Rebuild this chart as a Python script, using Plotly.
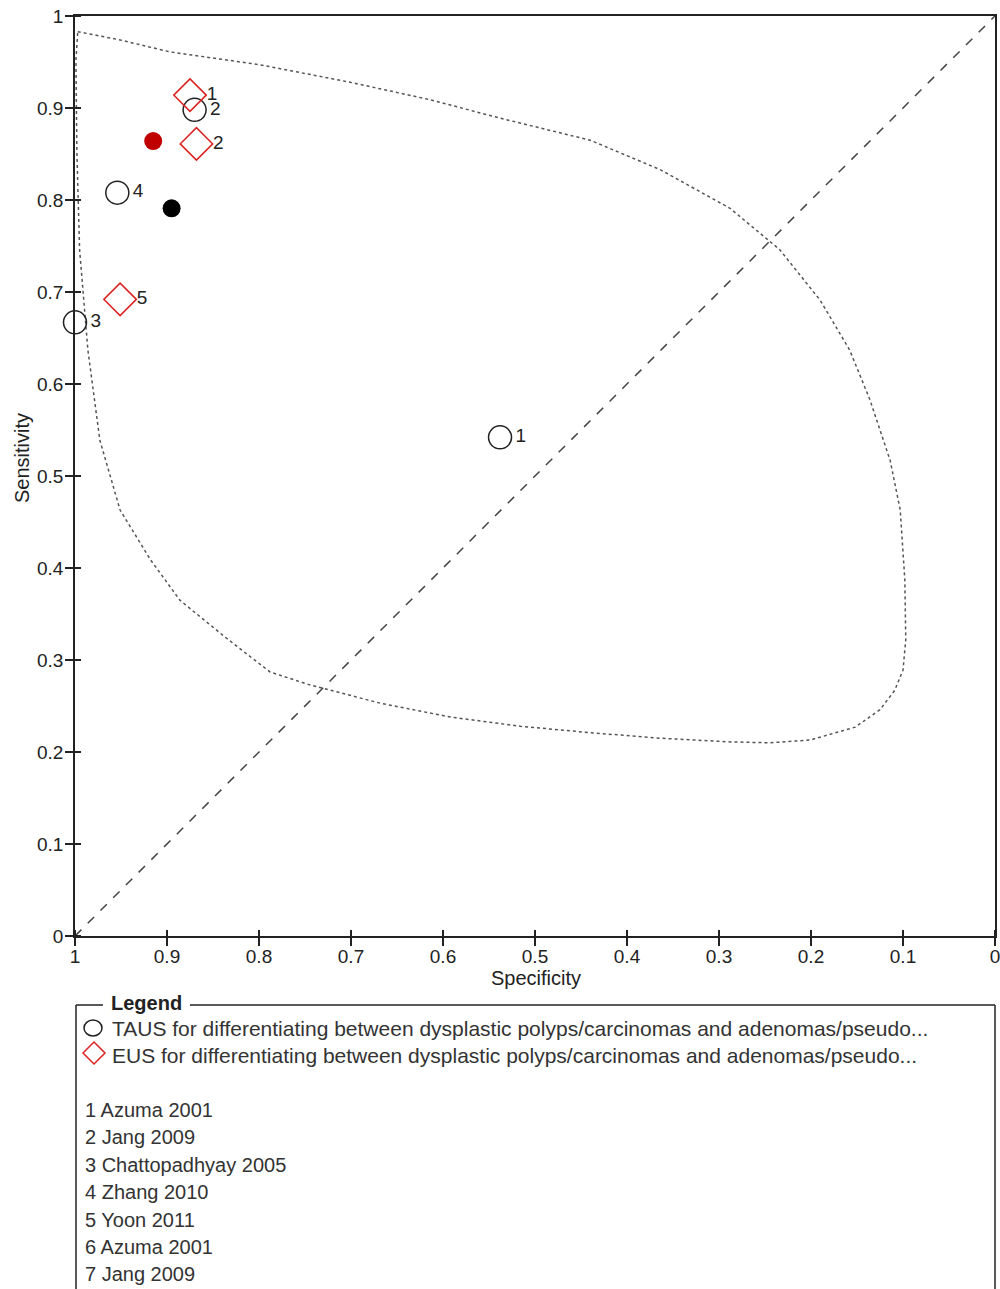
import plotly.graph_objects as go

# ---- data ----
taus_spec = [0.538, 0.870, 1.000, 0.954]
taus_sens = [0.542, 0.898, 0.667, 0.808]
taus_lab = ["1", "2", "3", "4"]

eus_spec = [0.875, 0.868, 0.951]
eus_sens = [0.914, 0.861, 0.692]
eus_lab = ["1", "2", "5"]

sum_taus_spec = [0.895]
sum_taus_sens = [0.791]
sum_eus_spec = [0.915]
sum_eus_sens = [0.864]

region_spec = [0.997, 0.951, 0.897, 0.799, 0.701, 0.614, 0.538, 0.440, 0.364, 0.288,
               0.234, 0.190, 0.158, 0.136, 0.114, 0.103, 0.098, 0.097, 0.100, 0.109,
               0.125, 0.152, 0.201, 0.245, 0.288, 0.364, 0.440, 0.516, 0.592, 0.668,
               0.745, 0.788, 0.837, 0.886, 0.918, 0.951, 0.973, 0.986, 0.995, 0.998,
               0.999, 0.997]
region_sens = [0.983, 0.974, 0.961, 0.947, 0.928, 0.909, 0.889, 0.865, 0.833, 0.791,
               0.746, 0.691, 0.637, 0.583, 0.517, 0.463, 0.387, 0.322, 0.289, 0.267,
               0.246, 0.227, 0.213, 0.210, 0.211, 0.215, 0.221, 0.228, 0.238, 0.253,
               0.273, 0.287, 0.325, 0.365, 0.409, 0.463, 0.539, 0.637, 0.746, 0.854,
               0.952, 0.983]

tick_vals = [1, 0.9, 0.8, 0.7, 0.6, 0.5, 0.4, 0.3, 0.2, 0.1, 0]
tick_text = ["1", "0.9", "0.8", "0.7", "0.6", "0.5", "0.4", "0.3", "0.2", "0.1", "0"]

legend_series = ["TAUS for differentiating between dysplastic polyps/carcinomas and adenomas/pseudo...",
                 "EUS for differentiating between dysplastic polyps/carcinomas and adenomas/pseudo..."]
studies = ["1 Azuma 2001", "2 Jang 2009", "3 Chattopadhyay 2005", "4 Zhang 2010",
           "5 Yoon 2011", "6 Azuma 2001", "7 Jang 2009"]

FONT = "Liberation Sans"
W, H = 1000, 1289
L, R, T, B = 75, 5, 16, 353
PW = W - L - R
PH = H - T - B

# page-pixel -> paper coordinates (plot area spans page x 75..995, y 16..936)
def px(x):
    return (x - L) / PW

def py(y):
    return (H - B - y) / PH

fig = go.Figure()

# diagonal
fig.add_trace(go.Scatter(x=[1, 0], y=[0, 1], mode="lines",
                         line=dict(color="#444444", width=1.5, dash="dash"),
                         showlegend=False, hoverinfo="skip"))
# confidence region
fig.add_trace(go.Scatter(x=region_spec, y=region_sens, mode="lines",
                         line=dict(color="#555555", width=1.5, dash="dot"),
                         showlegend=False, hoverinfo="skip"))
# TAUS studies
fig.add_trace(go.Scatter(x=taus_spec, y=taus_sens, mode="markers+text", text=taus_lab,
                         textposition="middle right",
                         textfont=dict(family=FONT, size=19, color="#222222"),
                         marker=dict(symbol="circle-open", size=23, color="#222222",
                                     line=dict(width=1.5, color="#222222")),
                         cliponaxis=False, showlegend=False))
# EUS studies
fig.add_trace(go.Scatter(x=eus_spec, y=eus_sens, mode="markers+text", text=eus_lab,
                         textposition="middle right",
                         textfont=dict(family=FONT, size=19, color="#222222"),
                         marker=dict(symbol="diamond-open", size=25, color="#dd2222",
                                     line=dict(width=1.5, color="#dd2222")),
                         cliponaxis=False, showlegend=False))
# summary points
fig.add_trace(go.Scatter(x=sum_taus_spec, y=sum_taus_sens, mode="markers",
                         marker=dict(symbol="circle", size=18, color="#000000"),
                         showlegend=False))
fig.add_trace(go.Scatter(x=sum_eus_spec, y=sum_eus_sens, mode="markers",
                         marker=dict(symbol="circle", size=18, color="#c00000"),
                         showlegend=False))

shapes = []
# legend box (top line broken by title)
lc = dict(color="#222222", width=1.5)
for (x0, y0, x1, y1) in [(76, 1005, 103, 1005), (190, 1005, 995, 1005),
                         (76, 1005, 76, 1300), (995, 1005, 995, 1300)]:
    shapes.append(dict(type="line", xref="paper", yref="paper",
                       x0=px(x0), y0=py(y0), x1=px(x1), y1=py(y1), line=lc))
# legend symbols
shapes.append(dict(type="circle", xref="paper", yref="paper",
                   x0=px(84), x1=px(102), y0=py(1020), y1=py(1036),
                   line=dict(color="#222222", width=1.5)))
shapes.append(dict(type="path", xref="paper", yref="paper",
                   path="M {a},{b} L {c},{d} L {a},{e} L {f},{d} Z".format(
                       a=px(94), b=py(1042), c=px(105), d=py(1053), e=py(1064), f=px(83)),
                   line=dict(color="#dd2222", width=1.5)))

annotations = [dict(text="<b>Legend</b>", xref="paper", yref="paper", x=px(146), y=py(1003),
                    xanchor="center", yanchor="middle", showarrow=False,
                    font=dict(family=FONT, size=20, color="#222222"))]
for i, s in enumerate(legend_series):
    annotations.append(dict(text=s, xref="paper", yref="paper", x=px(110), y=py(1028 + 27 * i),
                            xanchor="left", yanchor="middle", showarrow=False,
                            font=dict(family=FONT, size=21, color="#333333")))
for i, s in enumerate(studies):
    annotations.append(dict(text=s, xref="paper", yref="paper", x=px(83), y=py(1110 + 27.4 * i),
                            xanchor="left", yanchor="middle", showarrow=False,
                            font=dict(family=FONT, size=20, color="#333333")))
# axis titles
annotations.append(dict(text="Specificity", xref="paper", yref="paper", x=px(536), y=py(978),
                        xanchor="center", yanchor="middle", showarrow=False,
                        font=dict(family=FONT, size=20, color="#222222")))
annotations.append(dict(text="Sensitivity", xref="paper", yref="paper", x=px(22), y=py(458),
                        xanchor="center", yanchor="middle", showarrow=False, textangle=-90,
                        font=dict(family=FONT, size=20, color="#222222")))

axis_common = dict(showline=True, linecolor="#222222", linewidth=1.5, mirror=True,
                   ticks="outside", ticklen=8, tickcolor="#222222", tickwidth=1.5,
                   showgrid=False, zeroline=False, ticklabeloverflow="allow",
                   automargin=False,
                   tickfont=dict(family=FONT, size=19, color="#222222"),
                   tickvals=tick_vals, ticktext=tick_text,
                   minor=dict(tickvals=tick_vals, ticks="inside", ticklen=6,
                              tickcolor="#222222", tickwidth=1.5, showgrid=False))

fig.update_layout(
    width=W, height=H,
    margin=dict(l=L, r=R, t=T, b=B, autoexpand=False),
    plot_bgcolor="white", paper_bgcolor="white",
    xaxis=dict(range=[1, 0], ticklabelstandoff=-6, **axis_common),
    yaxis=dict(range=[0, 1], ticklabelstandoff=-2, **axis_common),
    shapes=shapes, annotations=annotations, showlegend=False,
)

fig.write_html("out.html", config={"displayModeBar": False},
               post_script="document.body.style.margin='0';document.body.style.overflow='hidden';")
